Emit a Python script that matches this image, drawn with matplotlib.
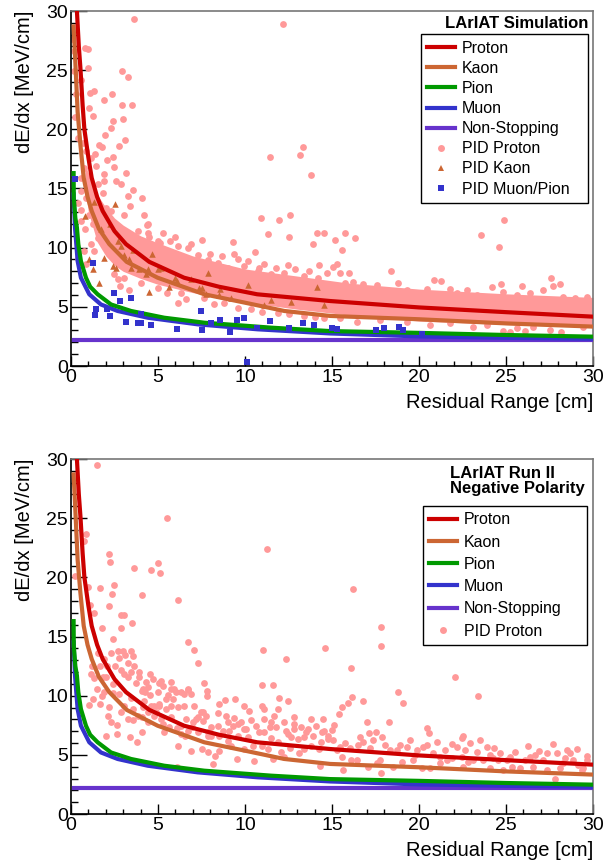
import numpy as np
import matplotlib
matplotlib.use('Agg')
import matplotlib.pyplot as plt
from matplotlib.lines import Line2D
from matplotlib.ticker import MultipleLocator

plt.rcParams['font.family'] = ['Liberation Sans', 'DejaVu Sans']

# expected dE/dx curves: residual range [cm], dE/dx [MeV/cm]
proton_rr = [0.34, 0.45, 0.54, 0.67, 0.77, 1.0, 1.19, 1.5, 1.82, 2.5, 3.16, 4.5, 6.5, 8.5, 10.7, 14.9, 20, 25, 30]
proton_dedx = [30, 27, 25.2, 22, 20, 17.6, 15.9, 14.3, 13.1, 11.4, 10.3, 8.8, 7.46, 6.7, 6.06, 5.49, 4.95, 4.55, 4.17]

kaon_rr = [0.15, 0.2, 0.29, 0.38, 0.54, 0.73, 0.95, 1.19, 1.6, 2.2, 3.2, 4.98, 7.66, 10, 12.26, 14.9, 20, 25, 30]
kaon_dedx = [28.7, 27.2, 24.4, 21.5, 18.7, 15.9, 14.3, 13.1, 11.6, 10.3, 8.8, 7.46, 6.06, 5.35, 4.65, 4.23, 3.95, 3.6, 3.33]

pion_rr = [0.15, 0.16, 0.25, 0.34, 0.42, 0.57, 0.86, 1.1, 1.53, 2.3, 3.45, 5.36, 7.66, 11.5, 14.9, 20, 25, 30]
pion_dedx = [16.3, 14.2, 12.5, 11.7, 10.3, 8.87, 7.46, 6.7, 6.06, 5.2, 4.65, 4.08, 3.66, 3.24, 2.95, 2.8, 2.62, 2.48]

muon_rr = [0.15, 0.23, 0.38, 0.57, 1.05, 1.72, 2.68, 4.41, 7.28, 10.73, 14.9, 20, 25, 30]
muon_dedx = [14.5, 11.7, 8.87, 7.46, 6.06, 5.2, 4.65, 4.08, 3.52, 3.1, 2.75, 2.5, 2.38, 2.3]

mip_rr = [0.18, 30]
mip_dedx = [2.23, 2.23]

# simulation: dense core of PID-proton hits (edges)
band_rr = [0.8, 1.0, 1.5, 2, 2.5, 3, 4, 5, 7, 10, 13, 16, 20, 25, 30]
band_hi = [17.0, 16.3, 14.5, 13.4, 12.5, 11.9, 11.0, 10.4, 9.3, 8.2, 7.6, 7.0, 6.5, 6.1, 5.8]
band_lo = [15.0, 13.0, 10.5, 9.3, 8.5, 8.0, 7.4, 6.9, 6.2, 5.4, 4.8, 4.3, 3.8, 3.5, 3.3]

# simulation: individual PID-proton hits outside the core
sim_proton = [
    (3.6, 29.3), (12.2, 28.9), (0.8, 26.85), (0.96, 26.76), (0.96, 25.2), (0.57, 24.2), (2.91, 24.9), (3.26, 24.4),
    (1.09, 23.1), (1.3, 23.24), (2.34, 23.0), (1.88, 22.45), (2.93, 22.06), (3.51, 22.06), (1.05, 21.83), (1.25, 21.1),
    (2.39, 20.7), (2.3, 20.14), (2.97, 20.85), (1.95, 19.5), (3.12, 19.1), (2.78, 18.6), (1.63, 18.7), (1.76, 18.5),
    (1.38, 17.9), (2.39, 17.7), (2.05, 17.4), (2.45, 16.8), (3.16, 16.3), (1.92, 16.25), (1.88, 15.6), (2.59, 15.6),
    (2.87, 15.35), (3.54, 14.9), (3.26, 14.4), (4.08, 14.2), (3.41, 13.5), (4.21, 12.8), (4.35, 11.9), (4.44, 11.27),
    (5.13, 10.4), (5.67, 10.6), (7.53, 10.65), (9.29, 10.45), (11.44, 17.66), (13.14, 17.83), (13.31, 18.5), (13.79, 16.1),
    (10.92, 12.5), (11.97, 12.34), (12.59, 12.76), (11.3, 11.13), (12.55, 10.93), (14.12, 11.2), (14.56, 11.2), (13.89, 10.34),
    (10.59, 9.63), (9.39, 9.49), (7.28, 9.35), (7.85, 8.99), (12.49, 8.54), (14.27, 8.51), (10.79, 8.31), (6.13, 5.3),
    (2.84, 6.76), (2.68, 7.38), (3.35, 6.45), (0.8, 11.55), (0.42, 13.8), (0.57, 14.8), (0.57, 13.15),
    (0.38, 19.3), (0.67, 18.87), (0.86, 18.17), (1.15, 17.6), (1.44, 16.9), (0.77, 16.76), (0.57, 15.9), (1.05, 15.9),
    (1.53, 15.35), (1.15, 14.8), (1.82, 14.65), (0.86, 14.2), (1.34, 13.66), (2.01, 13.38), (1.63, 13.1), (1.05, 12.8),
    (0.57, 12.25), (1.25, 11.97), (1.53, 10.85), (1.15, 10.28), (1.92, 10.28), (0.77, 9.7), (0.86, 8.6), (0.38, 9.15),
    (1.34, 9.7), (0.19, 26.6), (0.15, 24.9), (0.29, 22.96), (0.23, 21.0), (0.05, 27.6),
    (15.15, 10.64), (15.73, 11.2), (16.3, 10.83), (15.59, 9.8), (15.27, 8.65), (15.46, 7.89), (15.98, 7.86), (15.08, 8.37),
    (18.39, 8.03), (23.56, 11.1), (24.9, 12.3), (24.6, 10.02), (20.88, 7.24), (21.27, 7.16), (27.59, 7.47), (28.1, 6.9),
    (27.68, 6.77), (24.69, 6.94), (25.9, 6.77), (18.81, 7.02), (17.57, 6.82), (15.75, 7.05),
    (15.17, 6.7), (16.22, 7.13), (16.8, 6.93), (19.29, 6.42), (20.44, 6.48), (21.78, 6.48), (22.17, 6.14), (22.74, 6.42),
    (23.31, 6.0), (24.17, 6.7), (24.84, 6.28), (25.61, 6.0), (26.38, 6.2), (27.14, 6.42), (28.29, 5.86), (28.97, 5.72),
    (29.64, 5.86), (15.46, 4.02), (16.42, 3.74), (17.76, 3.88), (19.29, 3.74), (20.63, 3.46), (21.78, 3.6), (23.12, 3.32),
    (23.89, 3.46), (25.23, 2.9), (25.61, 3.18), (26.57, 3.32), (27.53, 3.04), (28.16, 2.9), (29.45, 3.26), (24.8, 2.96),
    (26.1, 2.96), (4.98, 10.56), (6.13, 10.14), (6.7, 10.0), (8.43, 8.73), (9.0, 8.31), (9.96, 8.45), (10.73, 8.03),
    (11.49, 7.75), (12.26, 7.89), (13.41, 7.61), (14.18, 7.46), (3.83, 11.41), (4.41, 11.97), (3.07, 12.76), (2.3, 13.1),
    (2.49, 7.75), (3.07, 7.46), (4.02, 7.04), (4.98, 6.62), (6.32, 6.2), (7.66, 5.77), (8.81, 5.35), (10.34, 4.79),
    (11.88, 4.51), (13.41, 4.23), (14.56, 4.08),
    (4.5, 10.9), (5.3, 11.2), (6.0, 10.9), (6.9, 10.3), (8.0, 9.5), (8.7, 9.3), (9.6, 9.0), (10.2, 8.9),
    (11.1, 8.6), (11.8, 8.3), (12.9, 8.2), (13.7, 8.0), (14.7, 7.9), (5.5, 6.2), (6.6, 5.7), (8.2, 5.2),
    (9.6, 4.9), (11.0, 4.6), (12.5, 4.4), (14.0, 4.1),
]

sim_kaon = [
    (1.32, 13.9), (0.82, 12.7), (1.02, 9.0), (1.25, 8.2), (1.63, 7.0), (1.72, 11.55), (1.92, 9.1), (2.26, 12.0),
    (2.53, 13.7), (2.39, 8.45), (2.59, 8.3), (2.68, 10.56), (2.87, 10.14), (3.07, 9.35), (3.35, 9.0), (3.45, 8.3),
    (3.58, 9.8), (3.93, 8.2), (4.31, 7.75), (4.41, 8.17), (4.5, 6.25), (4.64, 9.5), (5.02, 8.17), (5.17, 8.3),
    (5.65, 6.68), (5.98, 7.46), (6.09, 7.18), (6.9, 7.32), (7.38, 6.56), (7.51, 6.62), (7.76, 6.11), (7.89, 7.89),
    (8.52, 6.0), (8.58, 6.48), (9.2, 5.77), (10.15, 6.82), (11.11, 5.15), (11.49, 5.58), (12.64, 5.41), (14.14, 6.68),
    (14.56, 5.15),
]

sim_mupi = [
    (0.23, 15.8), (1.26, 8.73), (1.44, 4.85), (1.38, 4.34), (2.07, 4.8), (2.24, 4.25), (2.47, 6.2), (2.82, 5.52),
    (3.16, 3.75), (3.45, 5.77), (3.83, 3.6), (4.02, 3.6), (4.02, 4.42), (4.6, 3.46), (6.09, 3.15), (7.47, 4.65),
    (7.53, 3.0), (8.05, 3.66), (8.56, 3.92), (9.14, 2.87), (9.52, 3.92), (9.92, 4.08), (10.11, 0.37), (10.69, 3.24),
    (11.44, 3.83), (12.51, 3.18), (13.31, 3.66), (13.97, 3.46), (14.98, 3.23), (15.27, 3.11), (17.53, 3.08),
    (17.99, 3.2), (18.85, 3.31), (19.08, 3.0), (20.15, 2.7),
]

# Run II data, negative polarity: PID-proton hits
data_proton = [
    (1.49, 29.5), (5.52, 24.99), (11.25, 22.4), (0.86, 23.7), (0.73, 23.1), (2.2, 22.0), (2.24, 21.3), (5.02, 21.2),
    (4.6, 20.65), (5.13, 20.4), (3.6, 20.76), (0.23, 20.1), (1.69, 19.1), (2.45, 19.38), (2.34, 18.6), (4.06, 18.54),
    (0.96, 19.15), (6.17, 18.08), (2.2, 17.58), (1.11, 17.7), (1.34, 16.99), (2.87, 16.8), (3.03, 16.85), (3.51, 16.1),
    (2.87, 15.7), (1.78, 15.7), (2.39, 14.76), (6.7, 14.56), (7.09, 13.9), (11.05, 13.86), (14.62, 14.06), (12.34, 13.1),
    (7.28, 12.73), (2.68, 13.75), (2.97, 13.75), (3.45, 13.75), (2.3, 13.58), (3.12, 13.44), (3.54, 13.38), (2.78, 13.15),
    (3.3, 12.73), (2.07, 12.54), (1.57, 13.58), (1.19, 12.54), (1.82, 11.55), (2.01, 11.6), (2.87, 12.2), (3.07, 11.83),
    (3.45, 11.97), (3.89, 11.97), (4.54, 11.83), (1.15, 11.83), (1.34, 11.5), (2.39, 10.99), (3.3, 11.6), (3.74, 11.04),
    (5.08, 11.07), (5.27, 10.85), (5.75, 11.18), (5.94, 10.56), (2.39, 10.23), (2.74, 10.14), (3.45, 9.77), (4.06, 10.42),
    (4.25, 10.28), (4.56, 10.06), (5.02, 10.28), (5.56, 10.06), (6.03, 10.28), (6.74, 10.48), (7.62, 11.04), (7.8, 10.37),
    (7.8, 10.0), (6.51, 10.14), (1.76, 10.0), (1.05, 9.21), (1.69, 9.3), (2.2, 9.01), (3.54, 8.87), (4.12, 9.01),
    (4.41, 8.65), (4.79, 9.15), (5.08, 9.1), (5.46, 8.87), (5.75, 9.1), (6.51, 9.1), (7.05, 9.1), (7.47, 8.59),
    (5.75, 8.17), (4.79, 8.25), (4.06, 8.17), (3.54, 7.94), (2.62, 7.55), (2.62, 6.76), (2.01, 6.56), (3.39, 6.48),
    (3.77, 6.06), (4.08, 6.96), (5.27, 7.61), (5.33, 6.96), (5.65, 7.32), (6.09, 7.24), (6.32, 6.76), (6.55, 6.56),
    (6.93, 7.32), (7.18, 8.03), (7.57, 7.89), (7.85, 6.62), (6.13, 5.77), (7.53, 5.49), (8.05, 7.32), (8.52, 9.3),
    (8.85, 9.66), (8.47, 8.54), (8.91, 8.31), (9.0, 7.75), (9.44, 9.72), (9.39, 8.08), (9.58, 7.61), (9.96, 9.15),
    (10.25, 8.73), (10.34, 7.97), (9.92, 7.18), (9.58, 6.62), (9.0, 6.2), (8.28, 4.93), (8.14, 4.23), (8.52, 6.62),
    (9.52, 4.65), (9.96, 5.49), (10.54, 4.51), (10.98, 9.15), (11.07, 8.87), (10.96, 10.9), (11.59, 10.93), (11.69, 8.31),
    (11.88, 8.87), (11.97, 9.8), (12.49, 9.58), (11.46, 7.32), (11.07, 6.96), (11.49, 6.39), (11.88, 6.06), (12.36, 7.04),
    (12.64, 6.48), (12.8, 8.17), (12.8, 7.61), (13.03, 6.34), (13.12, 5.15), (13.51, 6.9), (13.79, 8.03), (13.89, 6.56),
    (14.46, 8.03), (14.41, 6.9), (14.75, 6.62), (14.37, 6.11), (14.33, 4.03), (12.07, 5.27), (12.61, 5.55), (12.26, 4.79),
    (11.59, 4.65), (10.96, 5.72), (6.09, 3.94),
    (4.12, 10.56), (4.44, 10.7), (5.17, 11.27), (5.75, 10.56), (6.32, 10.28), (6.7, 10.56), (6.9, 10.14), (7.57, 8.59),
    (7.76, 8.31), (7.28, 8.17), (6.99, 7.75), (6.61, 8.03), (6.32, 7.46), (6.7, 7.04), (7.28, 6.9), (7.85, 6.9),
    (8.05, 6.62), (8.43, 7.46), (8.72, 7.04), (9.1, 7.04), (9.29, 7.46), (9.77, 7.75), (10.06, 7.18), (10.63, 7.46),
    (10.82, 6.9), (11.11, 8.03), (11.49, 7.75), (11.78, 7.32), (12.26, 7.75), (12.45, 6.76), (12.84, 7.18), (13.22, 7.32),
    (13.41, 6.48), (13.6, 7.18), (14.08, 7.46), (14.56, 7.04), (14.75, 6.34), (10.15, 6.48), (9.2, 5.77), (8.52, 5.35),
    (7.85, 5.21), (6.9, 5.35), (10.44, 5.77), (11.3, 5.49), (13.41, 5.49), (13.79, 5.77), (14.27, 5.49), (4.6, 9.15),
    (4.89, 8.59), (5.17, 8.03), (4.41, 7.75), (3.83, 8.31), (3.07, 9.15), (2.87, 8.59), (3.26, 8.03), (2.11, 8.31),
    (2.3, 7.75), (1.92, 10.28), (1.49, 10.56), (1.25, 9.72), (1.69, 12.54), (1.92, 13.1), (2.55, 12.54), (3.64, 12.54),
    (3.93, 11.55), (4.31, 11.13), (4.69, 11.41), (5.46, 9.72), (5.84, 9.72), (6.13, 9.01), (5.08, 9.3), (4.21, 9.58),
    (16.23, 18.98), (17.8, 15.82), (17.82, 14.19), (16.07, 12.36), (22.07, 11.6), (23.41, 9.97), (18.81, 10.28),
    (19.06, 9.35), (16.8, 9.55), (16.13, 9.92), (15.94, 9.41), (15.56, 9.07), (15.42, 8.42), (15.12, 7.52), (14.98, 7.1),
    (16.99, 7.75), (18.3, 7.8), (20.48, 7.29), (20.58, 6.87), (22.55, 6.62), (22.45, 6.39), (23.5, 6.25), (22.93, 5.97),
    (21.92, 5.89), (22.65, 5.41), (24.33, 5.55), (26.24, 5.77), (27.68, 5.91), (29.1, 5.49), (28.52, 5.41), (28.67, 5.13),
    (29.67, 4.9), (26.38, 4.85), (26.91, 5.35), (27.33, 5.18), (25.52, 5.21), (24.66, 5.13), (25.04, 4.57), (24.08, 4.99),
    (23.7, 4.57), (28.29, 4.34), (29.16, 4.14), (29.45, 3.86), (27.82, 2.96), (27.33, 3.72), (25.8, 3.86), (25.33, 4.0),
    (21.59, 4.57), (20.82, 5.13), (19.77, 4.99), (19.91, 5.41), (19.49, 6.25), (18.91, 5.83), (18.34, 5.41), (17.86, 6.53),
    (17.51, 6.96), (17.38, 6.25), (17.1, 6.82), (16.61, 6.53), (16.51, 5.83), (16.03, 5.55), (15.75, 6.03), (15.46, 5.69),
    (15.27, 5.41), (15.08, 6.25), (15.56, 4.85), (16.09, 4.57), (17.09, 4.0), (17.8, 3.5), (19.01, 4.43), (20.17, 3.86),
    (21.21, 4.29), (22.45, 4.85), (23.31, 5.27), (24.25, 4.71), (22.84, 4.43), (20.44, 5.83), (21.5, 5.41), (17.76, 4.57),
    (18.52, 4.0),
    (16.8, 6.11), (17.18, 5.55), (18.05, 5.83), (18.72, 5.41), (19.29, 5.69), (19.67, 4.57), (20.25, 5.69), (21.02, 6.11),
    (21.21, 4.85), (21.88, 4.71), (22.17, 5.69), (23.12, 4.57), (23.89, 5.69), (24.56, 4.57), (25.23, 4.85), (26.1, 4.57),
    (26.67, 4.99), (27.14, 4.57), (27.91, 5.13), (28.39, 4.71), (28.87, 4.57), (29.35, 3.72), (29.64, 4.57), (28.1, 3.86),
    (26.57, 4.0), (24.84, 3.72), (24.08, 3.86), (22.55, 4.0), (15.65, 3.72), (16.42, 4.57), (17.57, 4.29), (20.63, 3.86),
]

c_proton = '#cc0000'
c_kaon = '#cc6633'
c_pion = '#009900'
c_muon = '#3333cc'
c_mip = '#6633cc'
c_pid_p = '#ff9999'

W, H = 608, 863
fig = plt.figure(figsize=(W / 100, H / 100), dpi=100)
ax_sim = fig.add_axes([71 / W, 1 - 366 / H, 522 / W, 355 / H])
ax_dat = fig.add_axes([71 / W, 1 - 814 / H, 522 / W, 355 / H])


def draw_curves(ax):
    ax.plot(mip_rr, mip_dedx, color=c_mip, lw=3, zorder=5)
    ax.plot(muon_rr, muon_dedx, color=c_muon, lw=3, zorder=6)
    ax.plot(pion_rr, pion_dedx, color=c_pion, lw=3, zorder=6)
    ax.plot(kaon_rr, kaon_dedx, color=c_kaon, lw=3, zorder=7)
    ax.plot(proton_rr, proton_dedx, color=c_proton, lw=3, zorder=8)


def style_axes(ax):
    ax.set_xlim(0, 30)
    ax.set_ylim(0, 30)
    ax.xaxis.set_major_locator(MultipleLocator(5))
    ax.xaxis.set_minor_locator(MultipleLocator(1))
    ax.yaxis.set_major_locator(MultipleLocator(5))
    ax.yaxis.set_minor_locator(MultipleLocator(1))
    ax.tick_params(axis='x', which='major', direction='in', length=7.2, width=1, labelsize=14, pad=2.5)
    ax.tick_params(axis='x', which='minor', direction='in', length=3.6, width=1)
    ax.tick_params(axis='y', which='major', direction='in', length=11.5, width=1, labelsize=14, pad=2)
    ax.tick_params(axis='y', which='minor', direction='in', length=5, width=1)
    for s in ['left', 'bottom']:
        ax.spines[s].set_linewidth(1.2)
        ax.spines[s].set_color('black')
    for s in ['top', 'right']:
        ax.spines[s].set_linewidth(1.2)
        ax.spines[s].set_color('#777777')
    ax.set_xlabel('Residual Range [cm]', loc='right', fontsize=14.5, labelpad=5)
    ax.set_ylabel('dE/dx [MeV/cm]', loc='top', fontsize=14.5, labelpad=9)


line_handles = [
    Line2D([], [], color=c_proton, lw=3),
    Line2D([], [], color=c_kaon, lw=3),
    Line2D([], [], color=c_pion, lw=3),
    Line2D([], [], color=c_muon, lw=3),
    Line2D([], [], color=c_mip, lw=3),
]
line_labels = ['Proton', 'Kaon', 'Pion', 'Muon', 'Non-Stopping']

# ---- simulation panel
ax = ax_sim
ax.fill_between(band_rr, band_lo, band_hi, color=c_pid_p, lw=0, zorder=1)
sp = np.array(sim_proton)
ax.scatter(sp[:, 0], sp[:, 1], s=24, color=c_pid_p, lw=0, zorder=2)
sk = np.array(sim_kaon)
ax.scatter(sk[:, 0], sk[:, 1], s=22, marker='^', color=c_kaon, lw=0, zorder=3)
sm = np.array(sim_mupi)
ax.scatter(sm[:, 0], sm[:, 1], s=22, marker='s', color=c_muon, lw=0, zorder=9)
draw_curves(ax)
style_axes(ax)
ax.text(0.992, 0.966, 'LArIAT Simulation', transform=ax.transAxes, ha='right', va='center',
        fontsize=12, fontweight='bold')
h = line_handles + [
    Line2D([], [], ls='none', marker='o', ms=5, color=c_pid_p, mew=0),
    Line2D([], [], ls='none', marker='^', ms=5, color=c_kaon, mew=0),
    Line2D([], [], ls='none', marker='s', ms=4.5, color=c_muon, mew=0),
]
lab = line_labels + ['PID Proton', 'PID Kaon', 'PID Muon/Pion']
leg = ax.legend(h, lab, loc='upper left', bbox_to_anchor=(0.670, 0.0, 0.321, 0.934), mode='expand',
                borderaxespad=0, fontsize=11.5, frameon=True, fancybox=False, edgecolor='black',
                framealpha=1, handlelength=1.75, handletextpad=0.42, labelspacing=0.32, borderpad=0.4)
leg.get_frame().set_linewidth(1)
leg.set_zorder(20)

# ---- data panel
ax = ax_dat
dp = np.array(data_proton)
ax.scatter(dp[:, 0], dp[:, 1], s=24, color=c_pid_p, lw=0, zorder=2)
draw_curves(ax)
style_axes(ax)
ax.text(0.726, 0.937, 'LArIAT Run II\nNegative Polarity', transform=ax.transAxes, ha='left', va='center',
        fontsize=12, fontweight='bold', linespacing=1.0)
h = line_handles + [Line2D([], [], ls='none', marker='o', ms=5, color=c_pid_p, mew=0)]
lab = line_labels + ['PID Proton']
leg = ax.legend(h, lab, loc='upper left', bbox_to_anchor=(0.674, 0.0, 0.314, 0.868), mode='expand',
                borderaxespad=0, fontsize=11.5, frameon=True, fancybox=False, edgecolor='black',
                framealpha=1, handlelength=1.75, handletextpad=0.42, labelspacing=0.455, borderpad=0.4)
leg.get_frame().set_linewidth(1)
leg.set_zorder(20)

fig.savefig('out.png', dpi=100)
